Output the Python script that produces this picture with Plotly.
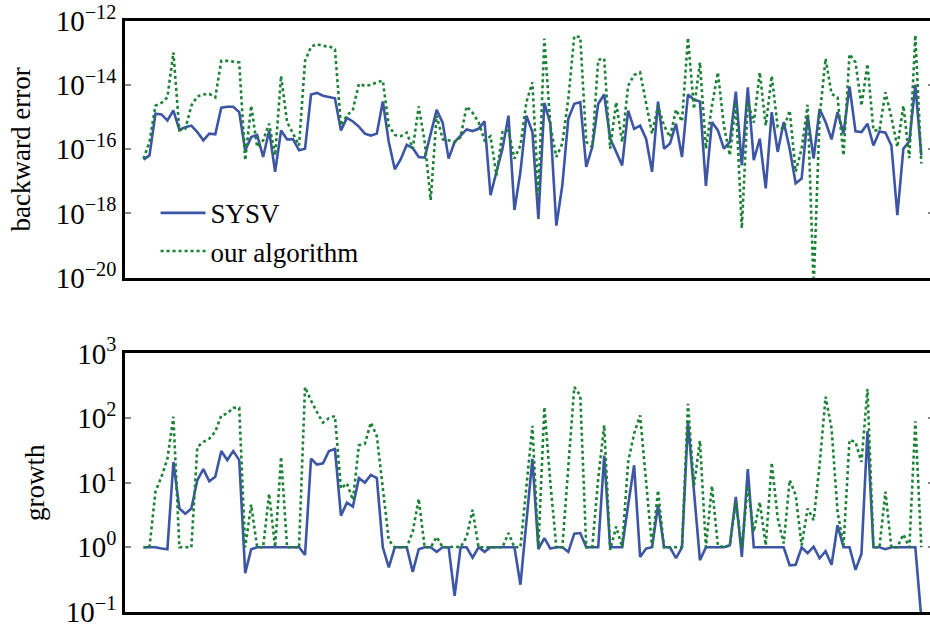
import plotly.graph_objects as go

# sample index (131 test matrices)
idx = list(range(131))

# log10 of backward error
sysv_backward_log10 = [
    -16.32, -16.19, -14.89, -14.91, -15.10, -14.79, -15.39, -15.31, -15.26, -15.46,
    -15.72, -15.51, -15.53, -14.70, -14.67, -14.67, -14.84, -16.03, -15.62, -15.55,
    -16.24, -15.41, -16.70, -15.41, -15.69, -15.69, -16.03, -15.98, -14.29, -14.24,
    -14.33, -14.38, -14.41, -15.41, -15.02, -15.13, -15.29, -15.51, -15.57, -15.51,
    -14.51, -15.77, -16.62, -16.31, -15.86, -15.96, -16.24, -16.26, -15.51, -14.77,
    -15.17, -16.29, -15.77, -15.59, -15.38, -15.43, -15.36, -15.13, -17.43, -16.70,
    -15.98, -14.95, -17.89, -16.70, -14.95, -15.46, -18.17, -14.55, -15.20, -18.38,
    -17.12, -15.05, -14.58, -14.53, -16.55, -15.93, -14.58, -14.29, -15.67, -16.08,
    -16.50, -14.79, -15.36, -15.26, -15.67, -16.70, -14.51, -15.98, -15.82, -15.20,
    -16.24, -14.29, -14.45, -14.51, -17.14, -15.15, -15.41, -15.98, -15.77, -14.20,
    -16.50, -14.07, -16.34, -15.67, -17.22, -14.84, -16.08, -15.15, -15.98, -17.06,
    -16.91, -14.95, -16.29, -14.74, -15.15, -15.69, -14.84, -15.51, -14.04, -15.44,
    -15.46, -15.20, -15.88, -15.44, -15.48, -15.88, -18.05, -15.98, -15.75, -13.99,
    -16.19,
]
ours_backward_log10 = [
    -16.29, -15.77, -14.64, -14.55, -14.38, -12.98, -15.41, -15.36, -14.64, -14.35,
    -14.29, -14.27, -14.38, -13.24, -13.24, -13.26, -13.29, -16.34, -14.64, -15.93,
    -15.72, -15.20, -16.19, -13.71, -15.15, -15.51, -15.88, -13.24, -12.80, -12.72,
    -12.78, -12.78, -12.88, -15.26, -14.95, -14.76, -13.96, -14.02, -13.99, -13.91,
    -13.86, -15.26, -15.55, -15.59, -15.48, -15.98, -14.66, -15.77, -17.58, -14.95,
    -15.69, -15.72, -15.77, -15.62, -14.66, -14.86, -15.15, -15.72, -15.59, -16.81,
    -15.46, -15.41, -16.29, -15.88, -14.53, -13.91, -17.43, -12.55, -15.26, -16.24,
    -15.82, -14.43, -12.47, -12.50, -15.77, -15.93, -13.21, -13.17, -15.98, -14.53,
    -15.77, -14.02, -13.68, -13.60, -14.53, -15.51, -14.64, -15.26, -15.62, -14.76,
    -15.13, -12.52, -14.74, -13.29, -15.98, -14.64, -13.60, -15.26, -16.19, -14.55,
    -18.46, -14.53, -15.17, -13.60, -15.26, -13.71, -15.31, -15.36, -14.79, -16.70,
    -15.98, -14.61, -20.30, -15.00, -13.17, -14.27, -14.38, -16.19, -13.03, -13.29,
    -14.64, -13.34, -15.41, -15.41, -14.22, -15.00, -15.93, -14.64, -16.27, -12.44,
    -16.44,
]

# log10 of growth factor
sysv_growth_log10 = [
    0.00, 0.00, 0.00, -0.02, -0.03, 1.32, 0.60, 0.52, 0.60, 1.04,
    1.21, 1.02, 1.09, 1.49, 1.35, 1.49, 1.35, -0.40, -0.03, 0.00,
    0.00, 0.00, 0.00, 0.00, -0.01, 0.00, 0.00, -0.12, 1.37, 1.28,
    1.30, 1.49, 1.52, 0.49, 0.69, 0.63, 1.07, 1.00, 1.12, 1.07,
    0.00, -0.31, 0.00, 0.00, 0.00, -0.38, -0.03, 0.00, 0.00, -0.07,
    0.00, 0.00, -0.75, 0.00, 0.00, -0.16, 0.00, -0.07, 0.00, 0.00,
    0.00, 0.00, 0.00, -0.58, 0.40, 1.37, -0.03, 0.14, -0.02, 0.00,
    0.00, -0.07, 0.21, 0.22, 0.00, 0.00, 0.00, 1.42, 0.00, 0.00,
    0.00, 0.65, 1.27, -0.15, -0.02, 0.00, 0.65, 0.00, 0.00, -0.17,
    0.00, 1.94, 0.91, -0.20, 0.00, 0.00, 0.00, 0.00, 0.03, 0.78,
    -0.15, 1.21, 0.00, 0.00, 0.00, 0.00, 0.00, 0.00, -0.28, -0.27,
    0.00, -0.09, 0.01, -0.17, -0.06, -0.27, 0.34, 0.00, 0.00, -0.35,
    -0.10, 1.80, 0.00, 0.00, -0.03, 0.00, 0.00, 0.00, 0.00, 0.00,
    -1.10,
]
ours_growth_log10 = [
    0.00, 0.00, 0.86, 1.09, 1.37, 2.02, 0.00, 0.00, 0.00, 1.55,
    1.63, 1.68, 1.79, 2.04, 2.07, 2.16, 2.16, 0.00, 0.66, 0.00,
    0.00, 0.83, 0.00, 1.40, 0.00, 0.00, 0.00, 2.48, 2.27, 2.09,
    1.93, 2.00, 2.03, 0.91, 0.99, 0.73, 1.58, 1.60, 1.93, 1.72,
    0.91, 0.11, 0.00, 0.00, 0.00, 0.24, 0.75, 0.00, 0.00, 0.16,
    0.00, 0.00, 0.01, 0.00, 0.16, 0.58, 0.00, 0.00, 0.00, 0.00,
    0.00, 0.22, 0.00, 0.00, 0.95, 1.88, 0.00, 2.17, 1.00, 0.00,
    0.00, 1.27, 2.48, 2.35, 0.00, 0.00, 1.06, 1.89, -0.04, 0.32,
    0.00, 1.32, 1.76, 2.04, 1.06, 0.00, 0.88, 0.00, 0.00, 0.00,
    0.00, 2.22, 0.95, 1.65, 0.00, 0.95, 0.03, 0.00, 0.03, 0.70,
    0.00, 0.95, 0.24, 0.70, 0.03, 1.31, 0.45, 0.06, 1.04, 0.81,
    0.03, 0.60, 0.42, 1.27, 2.33, 1.84, 0.55, 0.03, 1.66, 1.63,
    1.32, 2.45, 0.00, 0.00, 0.86, 0.00, 0.00, 0.20, 0.00, 1.95,
    0.00,
]

series_names = ["SYSV", "our algorithm"]
panel_titles = ["backward error", "growth"]

# tick exponents and labels
backward_tick_exps = [-20, -18, -16, -14, -12]
growth_tick_exps = [-1, 0, 1, 2, 3]
backward_tick_text = ["10<sup>\u2212%d</sup>" % abs(e) for e in backward_tick_exps]
growth_tick_text = ["10<sup>%s</sup>" % (("\u2212%d" % abs(e)) if e < 0 else str(e)) for e in growth_tick_exps]

BLUE = "#3C55A5"
GREEN = "#1B8136"
FONT = "Liberation Serif"
FS = 27
TFS = 29
EPS = 0.002

fig = go.Figure()
fig.add_trace(go.Scatter(x=idx, y=[10 ** v for v in sysv_backward_log10], mode="lines",
                         name=series_names[0], line=dict(color=BLUE, width=2.6),
                         xaxis="x", yaxis="y"))
fig.add_trace(go.Scatter(x=idx, y=[10 ** v for v in ours_backward_log10], mode="lines",
                         name=series_names[1], line=dict(color=GREEN, width=2.6, dash="dot"),
                         xaxis="x", yaxis="y"))
fig.add_trace(go.Scatter(x=idx, y=[10 ** v for v in sysv_growth_log10], mode="lines",
                         showlegend=False, line=dict(color=BLUE, width=2.6),
                         xaxis="x2", yaxis="y2"))
fig.add_trace(go.Scatter(x=idx, y=[10 ** v for v in ours_growth_log10], mode="lines",
                         showlegend=False, line=dict(color=GREEN, width=2.6, dash="dot"),
                         xaxis="x2", yaxis="y2"))

xcommon = dict(range=[-3.09, 132.12], showline=True, linecolor="black", linewidth=2.6,
               mirror=True, showticklabels=False, ticks="", showgrid=False, zeroline=False,
               domain=[0, 1])
ycommon = dict(type="log", tickmode="array", ticks="inside", ticklen=6, tickwidth=2.4,
               tickcolor="#888888", showline=True, linecolor="black", linewidth=2.6,
               mirror="ticks", showgrid=False, zeroline=False, automargin=False,
               ticklabeloverflow="allow",
               tickfont=dict(family=FONT, size=TFS, color="black"))

top_range = [-20 - EPS, -12 + EPS]
bot_range = [-1 - EPS, 3 + EPS]
top_dom = [0.5657, 1.0]
bot_dom = [0.0, 0.4377]

fig.update_layout(
    width=936, height=627,
    margin=dict(l=125, r=2, t=21, b=15),
    paper_bgcolor="white", plot_bgcolor="white",
    font=dict(family=FONT, size=FS, color="black"),
    xaxis=dict(anchor="y", **xcommon),
    xaxis2=dict(anchor="y2", **xcommon),
    yaxis=dict(anchor="x", domain=top_dom, range=top_range,
               tickvals=[10 ** e for e in backward_tick_exps], ticktext=backward_tick_text,
               title=dict(text=panel_titles[0], standoff=18, font=dict(family=FONT, size=FS)),
               **ycommon),
    yaxis2=dict(anchor="x2", domain=bot_dom, range=bot_range,
                tickvals=[10 ** e for e in growth_tick_exps], ticktext=growth_tick_text,
                title=dict(text=panel_titles[1], standoff=14, font=dict(family=FONT, size=FS)),
                **ycommon),
    legend=dict(x=0.0378, y=0.716, xanchor="left", yanchor="top",
                bgcolor="rgba(0,0,0,0)", font=dict(family=FONT, size=FS),
                itemwidth=45),
    showlegend=True,
)

# the page body has no margin; the plot area runs slightly past the window's right edge
fig.write_html("out.html",
               config={"displayModeBar": False},
               post_script="document.body.style.margin='0';document.body.style.overflow='hidden';")
